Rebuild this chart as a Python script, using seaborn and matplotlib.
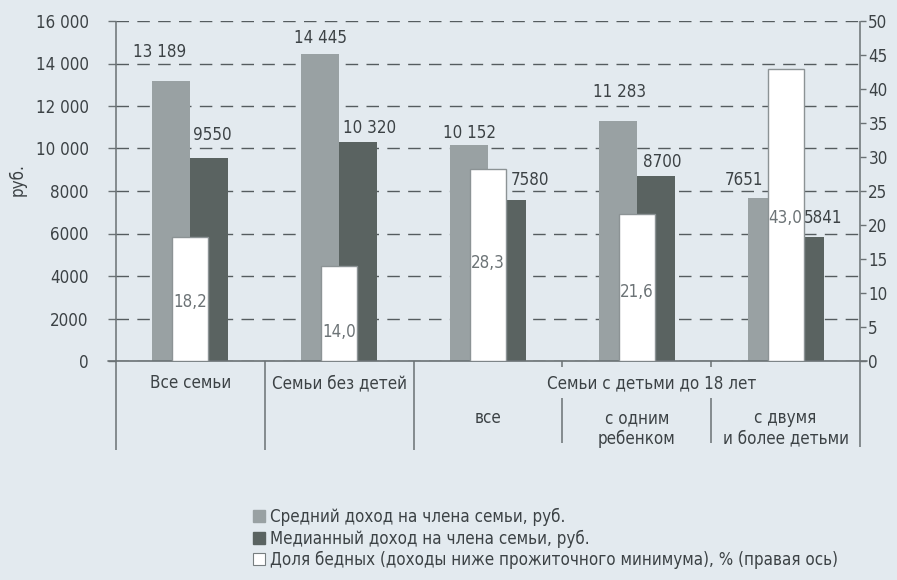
import matplotlib
matplotlib.use("Agg")
import matplotlib.pyplot as plt
import matplotlib.transforms as mtransforms
from matplotlib.patches import Patch
import seaborn as sns
import pandas as pd

# ---------------- data ----------------
group_keys = ["all", "nokids", "kids_all", "kids_one", "kids_two"]
group_top_labels = ["Все семьи", "Семьи без детей"]
kids_header = "Семьи с детьми до 18 лет"
kids_sub_labels = ["все", "с одним\nребенком", "с двумя\nи более детьми"]

mean_income = [13189, 14445, 10152, 11283, 7651]
median_income = [9550, 10320, 7580, 8700, 5841]
poor_share = [18.2, 14.0, 28.3, 21.6, 43.0]

mean_labels = ["13 189", "14 445", "10 152", "11 283", "7651"]
median_labels = ["9550", "10 320", "7580", "8700", "5841"]
poor_labels = ["18,2", "14,0", "28,3", "21,6", "43,0"]

left_ticks = [0, 2000, 4000, 6000, 8000, 10000, 12000, 14000, 16000]
left_tick_labels = ["0", "2000", "4000", "6000", "8000", "10 000", "12 000", "14 000", "16 000"]
right_ticks = [0, 5, 10, 15, 20, 25, 30, 35, 40, 45, 50]

series_names = ["Средний доход на члена семьи, руб.",
                "Медианный доход на члена семьи, руб.",
                "Доля бедных (доходы ниже прожиточного минимума), % (правая ось)"]

# ---------------- style ----------------
BG = "#e3eaef"
GRAY = "#99a1a3"
DARK = "#5a6361"
TXT = "#3c4245"
LINE = "#6a7174"
FS = 12.2

# label offsets in pixels (dx, dy) relative to bar top centre
mean_off = [(-12, 29), (0, 16), (0, 12), (2, 29), (-23, 18)]
median_off = [(3, 23), (11, 14), (23, 20), (6, 14), (19, 19)]
poor_off = [(0, -65), (0, -66), (0, -94), (0, -78), (0, -149)]

sns.set_theme(style="white")
plt.rcParams["font.family"] = ["DejaVu Sans"]
plt.rcParams["font.stretch"] = "condensed"
plt.rcParams["text.color"] = TXT
plt.rcParams["axes.labelcolor"] = TXT
plt.rcParams["xtick.color"] = TXT
plt.rcParams["ytick.color"] = TXT

DPI = 100
fig = plt.figure(figsize=(8.97, 5.80), dpi=DPI, facecolor=BG)
ax = fig.add_axes([116 / 897, 1 - 361 / 580, (860 - 116) / 897, 340 / 580])
ax.set_facecolor(BG)

df = pd.DataFrame({
    "group": group_keys * 2,
    "series": [series_names[0]] * 5 + [series_names[1]] * 5,
    "value": mean_income + median_income,
})
sns.barplot(data=df, x="group", y="value", hue="series", order=group_keys,
            hue_order=series_names[:2], palette=[GRAY, DARK], width=0.51,
            saturation=1, linewidth=0, legend=False, ax=ax, zorder=2)

ax2 = ax.twinx()
df2 = pd.DataFrame({"group": group_keys, "value": poor_share})
sns.barplot(data=df2, x="group", y="value", order=group_keys, color="white",
            width=0.242, saturation=1, edgecolor="#8c9395", linewidth=1.0,
            ax=ax2, zorder=3)

for a in (ax, ax2):
    a.set_xlim(-0.5, 4.5)
    a.set_xlabel("")
    a.set_ylabel("")
    a.set_xticks([])
    for s in a.spines.values():
        s.set_visible(False)

ax.set_ylim(0, 16000)
ax2.set_ylim(0, 50)
ax.set_yticks(left_ticks)
ax.set_yticklabels(left_tick_labels)
ax2.set_yticks(right_ticks)
ax2.set_yticklabels([str(t) for t in right_ticks])
ax.tick_params(axis="y", direction="out", length=5.8, width=1, color=LINE,
               pad=14, labelsize=FS, left=True)
ax2.tick_params(axis="y", direction="out", length=4, width=1, color=LINE,
                pad=2, labelsize=FS, right=True)

ax.yaxis.grid(True, linestyle=(0, (9, 6)), color="#555c5f", linewidth=1.0)
ax.set_axisbelow(True)

ax.text((18 - 116) / 744, (361 - 180) / 340, "руб.", rotation=90,
        transform=ax.transAxes, ha="center", va="center", fontsize=FS)

# value labels
px = 72 / DPI
for cont, labels, offs in ((ax.containers[0], mean_labels, mean_off),
                           (ax.containers[1], median_labels, median_off)):
    for bar, lab, (dx, dy) in zip(cont, labels, offs):
        xc = bar.get_x() + bar.get_width() / 2
        ax.annotate(lab, (xc, bar.get_height()), xytext=(dx * px, dy * px),
                    textcoords="offset points", ha="center", va="center",
                    fontsize=FS, color=TXT, zorder=5)
for bar, lab, (dx, dy) in zip(ax2.containers[0], poor_labels, poor_off):
    xc = bar.get_x() + bar.get_width() / 2
    ax2.annotate(lab, (xc, bar.get_height()), xytext=(dx * px, dy * px),
                 textcoords="offset points", ha="center", va="center",
                 fontsize=FS, color="#6c7376", zorder=5)

# axes frame lines / table
H = 340.0
def ay(p):
    return -p / H

def vline(a, x, y0, y1, trans):
    a.plot([x, x], [y0, y1], transform=trans, color=LINE, lw=1.1,
           clip_on=False, zorder=6, solid_capstyle="butt")

tA = ax.transAxes
tB = mtransforms.blended_transform_factory(ax.transData, ax.transAxes)
ax.plot([-8 / 744, 1 + 7 / 744], [0, 0], transform=tA, color=LINE, lw=1.2,
        clip_on=False, zorder=6)
vline(ax, 0, 1, ay(89), tA)
vline(ax, 1, 1, ay(86), tA)
n = len(group_keys)
for i in range(1, 3):
    vline(ax, i - 0.5, 0, ay(89), tB)
for i in range(3, n):
    vline(ax, i - 0.5, 0, ay(6), tB)
    vline(ax, i - 0.5, ay(37), ay(82), tB)

row1 = ay(22)
ax.text(0, row1, group_top_labels[0], transform=tB, ha="center", va="center", fontsize=FS)
ax.text(1, row1, group_top_labels[1], transform=tB, ha="center", va="center", fontsize=FS)
ax.text(3.1, row1, kids_header, transform=tB, ha="center", va="center", fontsize=FS)
for i, lab in enumerate(kids_sub_labels):
    ax.text(2 + i, ay(48), lab, transform=tB, ha="center", va="top",
            fontsize=FS, linespacing=1.2)

handles = [Patch(facecolor=GRAY, edgecolor=GRAY),
           Patch(facecolor=DARK, edgecolor=DARK),
           Patch(facecolor="white", edgecolor="#777e80", linewidth=0.8)]
fig.legend(handles, series_names, loc="upper left",
           bbox_to_anchor=(253 / 897, 1 - 508 / 580), frameon=False,
           fontsize=FS, handlelength=0.7, handleheight=0.7,
           handletextpad=0.3, labelspacing=0.2, borderpad=0,
           borderaxespad=0)

fig.savefig("out.png", dpi=DPI, facecolor=BG)
